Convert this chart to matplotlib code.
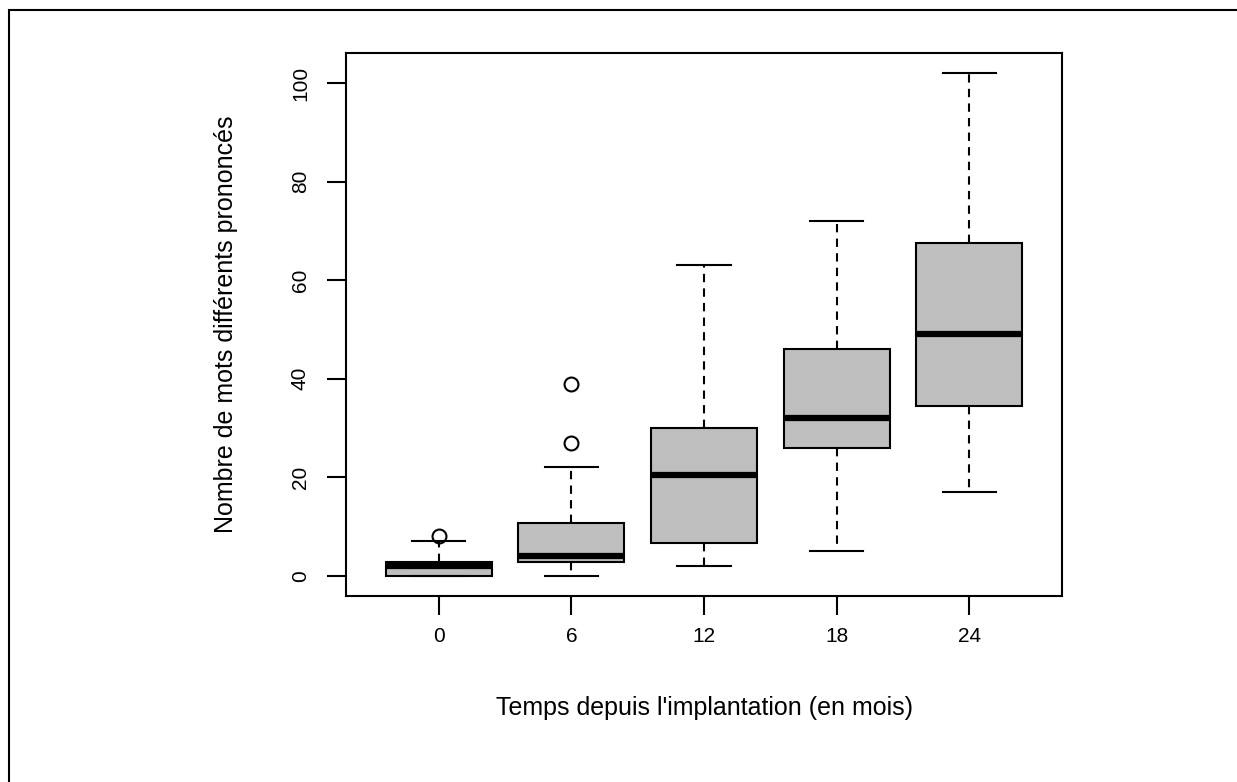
import matplotlib
matplotlib.use("Agg")
import matplotlib.pyplot as plt
from matplotlib.patches import Rectangle

plt.rcParams['font.family'] = ['Liberation Sans', 'DejaVu Sans']

# months since implantation
months = [0, 6, 12, 18, 24]
q1 = [0, 2.75, 6.75, 26, 34.5]
med = [2, 4, 20.5, 32, 49]
q3 = [2.75, 10.75, 30, 46, 67.5]
whislo = [0, 0, 2, 5, 17]
whishi = [7, 22, 63, 72, 102]
outliers = [[8], [27, 39], [], [], []]


def main():
	fig = plt.figure(figsize=(12.37, 7.82), dpi=100)
	ax = fig.add_axes([346 / 1237, 1 - 596 / 782, (1062 - 346) / 1237, (596 - 53) / 782])

	stats = []
	for i in range(len(months)):
		stats.append(dict(q1=q1[i], med=med[i], q3=q3[i], whislo=whislo[i],
						  whishi=whishi[i], fliers=outliers[i], label=str(months[i])))

	pos = list(range(1, len(months) + 1))
	ax.bxp(stats, positions=pos, widths=0.8, capwidths=0.4, patch_artist=True,
		   boxprops=dict(facecolor='#bebebe', edgecolor='black', linewidth=1.5),
		   medianprops=dict(color='black', linewidth=4.5, solid_capstyle='butt'),
		   whiskerprops=dict(color='black', linewidth=1.5, linestyle=(0, (4, 3))),
		   capprops=dict(color='black', linewidth=1.5),
		   flierprops=dict(marker='o', markerfacecolor='none', markeredgecolor='black',
						   markersize=10, markeredgewidth=1.5))

	ax.set_xlim(0.3, 5.7)
	ax.set_ylim(-4.08, 106.08)
	ax.set_xticks(pos)
	ax.set_xticklabels([str(m) for m in months])
	ax.set_yticks([0, 20, 40, 60, 80, 100])
	ax.set_yticklabels(['0', '20', '40', '60', '80', '100'], rotation=90, va='center')
	for s in ax.spines.values():
		s.set_linewidth(1.5)
	ax.tick_params(direction='out', length=14, width=1.5, labelsize=15, pad=8)
	ax.tick_params(axis='y', pad=12)

	ax.set_xlabel("Temps depuis l'implantation (en mois)", fontsize=18, labelpad=36)
	ax.set_ylabel("Nombre de mots différents prononcés", fontsize=18, labelpad=38)

	# outer frame of the figure
	fig.patches.append(Rectangle((9 / 1237, -0.1), 1.2, 1 - 10 / 782 + 0.1,
								 transform=fig.transFigure, fill=False,
								 edgecolor='black', linewidth=1.5))

	fig.savefig("out.png", dpi=100)


if __name__ == '__main__':
	main()
